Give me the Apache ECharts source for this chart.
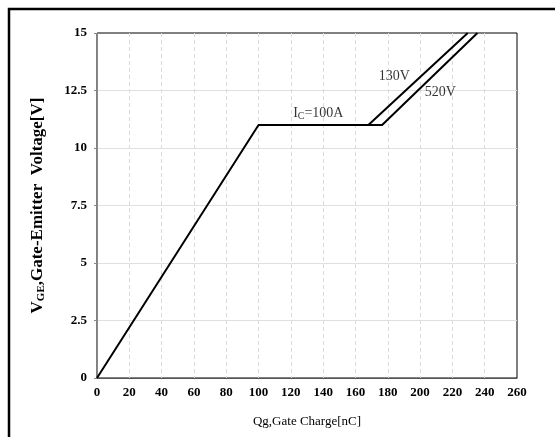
<!DOCTYPE html>
<html>
<head>
<meta charset="utf-8">
<script src="https://cdn.jsdelivr.net/npm/echarts@6/dist/echarts.min.js"></script>
<style>
  html, body { margin: 0; padding: 0; background: #fff; }
  #chart { width: 555px; height: 437px; }
</style>
</head>
<body>
<div id="chart"></div>
<script>
// Gate charge curves: gate-emitter voltage vs. gate charge
const curve130V = [[0, 0], [100, 11], [168, 11], [229.5, 15]];
const curve520V = [[168, 11], [176.5, 11], [235.5, 15]];

// Annotation text placed at data coordinates
const annotations = [
  { name: '130V', value: [184, 13.1] },
  { name: '520V', value: [212.5, 12.4] },
  { name: 'Ic', value: [137, 11.52] }
];

const xTicks = { min: 0, max: 260, interval: 20 };
const yTicks = { min: 0, max: 15, interval: 2.5 };

const serif = '"Liberation Serif", "DejaVu Serif", serif';

const chart = echarts.init(document.getElementById('chart'));

chart.setOption({
  animation: false,
  backgroundColor: '#fff',
  graphic: [{
    type: 'rect',
    shape: { x: 9, y: 9, width: 620, height: 520 },
    style: { fill: 'none', stroke: '#000', lineWidth: 2.5 },
    silent: true
  }],
  grid: {
    left: 97, right: 38, top: 33, bottom: 59,
    show: true, borderColor: '#000', borderWidth: 1
  },
  xAxis: {
    type: 'value',
    min: xTicks.min, max: xTicks.max, interval: xTicks.interval,
    name: 'Qg,Gate Charge[nC]',
    nameLocation: 'middle',
    nameGap: 37,
    nameTextStyle: { fontFamily: serif, fontSize: 13, color: '#000' },
    axisLine: { lineStyle: { color: '#555', width: 1 } },
    axisTick: { show: false },
    axisLabel: { fontFamily: serif, fontSize: 13, fontWeight: 'bold', color: '#000', margin: 8 },
    splitLine: {
      show: true, showMinLine: false, showMaxLine: false,
      lineStyle: { color: '#dadada', type: [4, 3], width: 1 }
    }
  },
  yAxis: {
    type: 'value',
    min: yTicks.min, max: yTicks.max, interval: yTicks.interval,
    name: '{v|V}{s|GE}{v|,Gate-Emitter  Voltage[V]}',
    nameLocation: 'middle',
    nameGap: 50,
    nameRotate: 90,
    nameTextStyle: {
      rich: {
        v: { fontFamily: serif, fontSize: 17, fontWeight: 'bold', color: '#000' },
        s: { fontFamily: serif, fontSize: 11, fontWeight: 'bold', color: '#000', verticalAlign: 'bottom', padding: [7, 0, 0, 0] }
      }
    },
    axisLine: { show: true, lineStyle: { color: '#888', width: 1 } },
    axisTick: { show: true, length: 3, lineStyle: { color: '#888' } },
    axisLabel: {
      fontFamily: serif, fontSize: 13, fontWeight: 'bold', color: '#000', margin: 10,
      formatter: v => String(v)
    },
    splitLine: {
      show: true, showMinLine: false, showMaxLine: false,
      lineStyle: { color: '#e0e0e0', type: 'solid', width: 1 }
    }
  },
  series: [
    {
      name: '130V', type: 'line', data: curve130V, showSymbol: false, symbol: 'none',
      lineStyle: { color: '#000', width: 2 }, z: 3
    },
    {
      name: '520V', type: 'line', data: curve520V, showSymbol: false, symbol: 'none',
      lineStyle: { color: '#000', width: 2 }, z: 3
    },
    {
      type: 'scatter', data: annotations, symbolSize: 0, z: 4,
      label: {
        show: true, position: 'inside',
        formatter: p => p.name === 'Ic' ? '{t|I}{s|C}{t|=100A}' : '{t|' + p.name + '}',
        rich: {
          t: { fontFamily: serif, fontSize: 14, color: '#000' },
          s: { fontFamily: serif, fontSize: 10, color: '#000', padding: [6, 0, 0, 0] }
        }
      }
    }
  ]
});
</script>
</body>
</html>
